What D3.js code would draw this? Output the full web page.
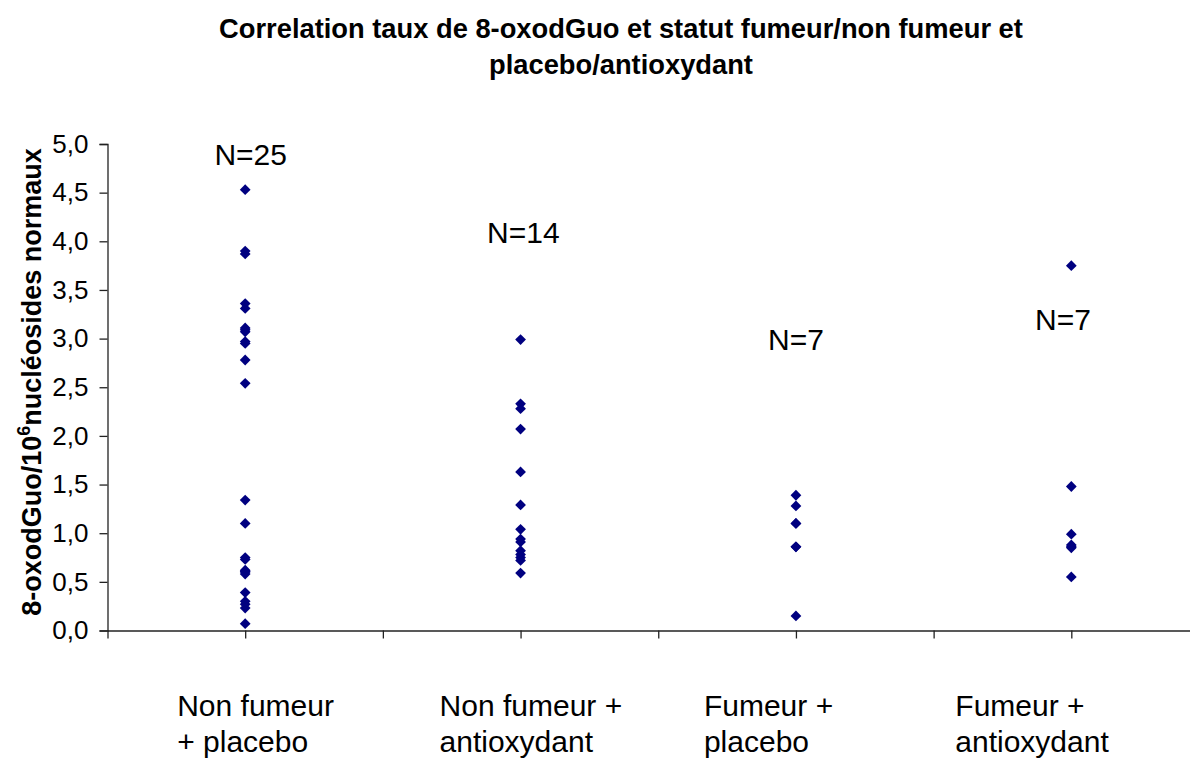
<!DOCTYPE html>
<html>
<head>
<meta charset="utf-8">
<script src="https://cdn.jsdelivr.net/npm/d3@7"></script>
<style>
  html, body { margin: 0; padding: 0; background: #fff; }
  svg { display: block; font-family: "Liberation Sans", Arial, sans-serif; }
</style>
</head>
<body>
<svg id="chart" width="1190" height="760"></svg>
<script>
// Groups (x position = 1..4) and measured 8-oxodGuo levels per 10^6 normal nucleosides
const groups = ["Non fumeur + placebo", "Non fumeur + antioxydant", "Fumeur + placebo", "Fumeur + antioxydant"];
const nonFumeurPlacebo = [4.53, 3.90, 3.87, 3.36, 3.31, 3.11, 3.09, 3.07, 2.97, 2.95, 2.78, 2.54,
                          1.34, 1.10, 0.75, 0.73, 0.62, 0.61, 0.60, 0.58, 0.39, 0.30, 0.27, 0.23, 0.07];
const nonFumeurAntiox = [2.99, 2.33, 2.28, 2.07, 1.63, 1.29, 1.04, 0.94, 0.91, 0.82, 0.78, 0.75, 0.72, 0.59];
const fumeurPlacebo = [1.39, 1.28, 1.10, 1.10, 0.86, 0.86, 0.15];
const fumeurAntiox = [3.75, 1.48, 0.99, 0.88, 0.86, 0.85, 0.55];
const seriesValues = [nonFumeurPlacebo, nonFumeurAntiox, fumeurPlacebo, fumeurAntiox];

const countLabels = ["N=25", "N=14", "N=7", "N=7"];
const groupLabelLines = [["Non fumeur", "+ placebo"], ["Non fumeur +", "antioxydant"], ["Fumeur +", "placebo"], ["Fumeur +", "antioxydant"]];
const yTicks = [0, 0.5, 1, 1.5, 2, 2.5, 3, 3.5, 4, 4.5, 5];
const xTicks = [0.5, 1, 1.5, 2, 2.5, 3, 3.5, 4, 4.5];

// Placement of the free-floating count labels (in data units) and group captions
const countLabelPos = [{x: 1.02, y: 4.78}, {x: 2.01, y: 3.98}, {x: 3.0, y: 2.88}, {x: 3.97, y: 3.09}];
const captionOffsets = [-68, -81, -92, -116];

const svg = d3.select("#chart");
const x = d3.scaleLinear().domain([0.5, 4.5]).range([107.5, 1209]);
const y = d3.scaleLinear().domain([0, 5]).range([630.5, 144]);

// Title
const title = svg.append("text").attr("text-anchor", "middle")
  .attr("font-weight", "bold").attr("font-size", 27.3).attr("fill", "#000");
title.append("tspan").attr("x", 621).attr("y", 38)
  .text("Correlation taux de 8-oxodGuo et statut fumeur/non fumeur et");
title.append("tspan").attr("x", 621).attr("y", 74).text("placebo/antioxydant");

// Y axis
const yAxis = svg.append("g").attr("transform", `translate(${x(0.5)},0)`)
  .call(d3.axisLeft(y).tickValues(yTicks).tickSize(8).tickPadding(11)
    .tickFormat(d => d3.format(".1f")(d).replace(".", ",")));
yAxis.select(".domain").attr("stroke", "#222").attr("stroke-width", 1.3);
yAxis.selectAll(".tick line").attr("stroke", "#222").attr("stroke-width", 1.3);
yAxis.selectAll(".tick text").attr("font-size", 26).attr("fill", "#000")
  .attr("font-family", "Liberation Sans, Arial, sans-serif");

// X axis (value axis with ticks every 0.5, no labels)
const xAxis = svg.append("g").attr("transform", `translate(0,${y(0)})`)
  .call(d3.axisBottom(x).tickValues(xTicks).tickSize(8).tickSizeOuter(0).tickFormat(""));
xAxis.select(".domain").attr("stroke", "#222").attr("stroke-width", 1.3);
xAxis.selectAll(".tick line").attr("stroke", "#222").attr("stroke-width", 1.3);

// Y axis title with superscript exponent
const yTitle = svg.append("text")
  .attr("transform", `translate(41,382) rotate(-90)`)
  .attr("text-anchor", "middle").attr("font-weight", "bold").attr("font-size", 27).attr("fill", "#000");
yTitle.append("tspan").text("8-oxodGuo/10");
yTitle.append("tspan").attr("dy", -11).attr("font-size", 18).text("6");
yTitle.append("tspan").attr("dy", 11).text("nucléosides normaux");

// Points
const diamond = d3.symbol().type(d3.symbolSquare).size(58);
const points = seriesValues.flatMap((vals, i) => vals.map(v => ({g: i + 1, v})));
svg.append("g").selectAll("path").data(points).join("path")
  .attr("d", diamond)
  .attr("transform", d => `translate(${x(d.g)},${y(d.v)}) rotate(45)`)
  .attr("fill", "#000080");

// Count labels
svg.append("g").selectAll("text").data(countLabels).join("text")
  .attr("x", (d, i) => x(countLabelPos[i].x)).attr("y", (d, i) => y(countLabelPos[i].y))
  .attr("text-anchor", "middle").attr("font-size", 30).attr("fill", "#000")
  .text(d => d);

// Group captions
const cap = svg.append("g").selectAll("text").data(groupLabelLines).join("text")
  .attr("font-size", 30).attr("fill", "#000");
cap.each(function(lines, i) {
  const t = d3.select(this);
  lines.forEach((line, j) => {
    t.append("tspan").attr("x", x(i + 1) + captionOffsets[i]).attr("y", 716 + j * 36).text(line);
  });
});
</script>
</body>
</html>
